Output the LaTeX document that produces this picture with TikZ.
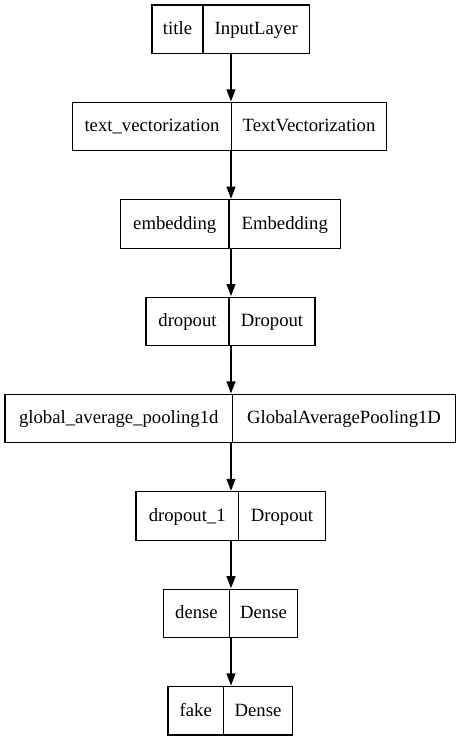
\documentclass[tikz,border=0pt]{standalone}
\usepackage{fontspec}
\setmainfont{Liberation Serif}
\usetikzlibrary{fit,arrows.meta}
\tikzset{
  lbox/.style={draw=black, line width=1.1pt, inner sep=0pt, fit=#1},
  divider/.style={draw=black, line width=1.1pt},
  lbl/.style={anchor=base, inner sep=0pt, font=\fontsize{18.7}{22}\selectfont},
  arr/.style={draw=black, line width=1.1pt, -{Triangle[length=12pt,width=9pt]}, shorten >=0.5pt}
}
\newcommand\mylayer[7]{%
  \coordinate (#1-nw) at (#2,#5);
  \coordinate (#1-se) at (#4,#5+48.5);
  \node[lbox=(#1-nw)(#1-se)] (#1) {};
  \draw[divider] (#3,#5) -- (#3,#5+48.5);
  \node[lbl] (#1-l) at ({(#2+#3)/2},#5+29.5) {#6};
  \node[lbl] (#1-r) at ({(#3+#4)/2},#5+29.5) {#7};
}
\begin{document}
\begin{tikzpicture}[x=1pt,y=-1pt]
  \useasboundingbox (0,0) rectangle (461,741);
  \fill[white] (0,0) rectangle (461,741);
  \mylayer{L1}{152}{203}{309.5}{5}{title}{InputLayer}
  \mylayer{L2}{72.5}{231.5}{386.5}{102.4}{text\_vectorization}{TextVectorization}
  \mylayer{L3}{120.5}{229}{340.5}{199.7}{embedding}{Embedding}
  \mylayer{L4}{146}{229}{315}{297.1}{dropout}{Dropout}
  \mylayer{L5}{5}{232.5}{455.5}{394.4}{global\_average\_pooling1d}{GlobalAveragePooling1D}
  \mylayer{L6}{136}{238.5}{325.5}{491.8}{dropout\_1}{Dropout}
  \mylayer{L7}{163.5}{229.5}{297.5}{589.2}{dense}{Dense}
  \mylayer{L8}{168}{223.5}{292.5}{686.5}{fake}{Dense}
  \coordinate (ax) at (231,0);
  \foreach \a/\b in {L1/L2,L2/L3,L3/L4,L4/L5,L5/L6,L6/L7,L7/L8}
    \draw[arr] (\a.south -| ax) -- (\b.north -| ax);
\end{tikzpicture}
\end{document}
